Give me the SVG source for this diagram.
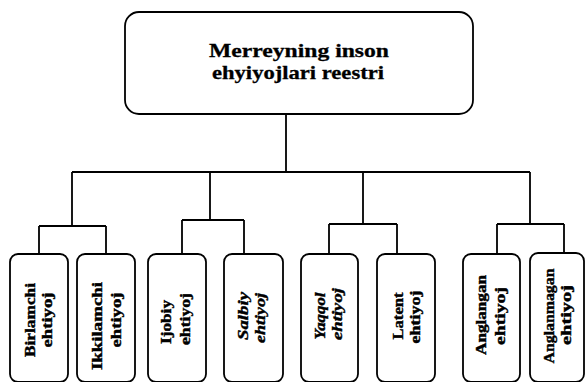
<svg xmlns="http://www.w3.org/2000/svg" width="586" height="382" viewBox="0 0 586 382">
<style>
.box{fill:#fff;stroke:#000;stroke-width:1.8}
.ln{fill:none;stroke:#000;stroke-width:1.8}
.t{font-family:"Liberation Serif","Times New Roman",serif;font-weight:bold;font-size:14px;fill:#000;stroke:#000;stroke-width:0.4;text-anchor:middle}
.it{font-style:italic}
.title{font-family:"Liberation Serif","Times New Roman",serif;font-weight:bold;font-size:19px;fill:#000;stroke:#000;stroke-width:0.3;text-anchor:middle}
</style>
<rect width="586" height="382" fill="#fff"/>
<g id="connectors">
<path class="ln" d="M286 114V172M72 172H530M72 172V226M210 172V220M363 172V224M530 172V224"/>
<path class="ln" d="M39 226H106M39 226V254M106 226V254"/>
<path class="ln" d="M182 220H244M182 220V254M244 220V254"/>
<path class="ln" d="M329 224H397M329 224V254M397 224V254"/>
<path class="ln" d="M497 224H564M497 224V254M564 224V253"/>
</g>
<g id="root">
<rect class="box" x="125" y="12" width="348" height="102" rx="14"/>
<text class="title" x="299" y="57" textLength="180" lengthAdjust="spacingAndGlyphs">Merreyning inson</text>
<text class="title" x="298" y="79" textLength="172" lengthAdjust="spacingAndGlyphs">ehyiyojlari reestri</text>
</g>
<g id="n1">
<rect class="box" x="10" y="254" width="58" height="128" rx="8"/>
<text class="t" transform="translate(35 320) rotate(-90)" textLength="74" lengthAdjust="spacingAndGlyphs">Birlamchi</text>
<text class="t" transform="translate(52 320) rotate(-90)" textLength="55" lengthAdjust="spacingAndGlyphs">ehtiyoj</text>
</g>
<g id="n2">
<rect class="box" x="77" y="254" width="58" height="128" rx="8"/>
<text class="t" transform="translate(102 326) rotate(-90)" textLength="88" lengthAdjust="spacingAndGlyphs">Ikkilamchi</text>
<text class="t" transform="translate(121 320) rotate(-90)" textLength="55" lengthAdjust="spacingAndGlyphs">ehtiyoj</text>
</g>
<g id="n3">
<rect class="box" x="148" y="254" width="58" height="128" rx="8"/>
<text class="t" transform="translate(171 322) rotate(-90)" textLength="44" lengthAdjust="spacingAndGlyphs">Ijobiy</text>
<text class="t" transform="translate(190 319) rotate(-90)" textLength="52" lengthAdjust="spacingAndGlyphs">ehtiyoj</text>
</g>
<g id="n4">
<rect class="box" x="224" y="254" width="59" height="128" rx="8"/>
<text class="t it" transform="translate(248 316) rotate(-90)" textLength="48" lengthAdjust="spacingAndGlyphs">Salbiy</text>
<text class="t it" transform="translate(265 318) rotate(-90)" textLength="50" lengthAdjust="spacingAndGlyphs">ehtiyoj</text>
</g>
<g id="n5">
<rect class="box" x="301" y="254" width="57" height="128" rx="8"/>
<text class="t it" transform="translate(325 316) rotate(-90)" textLength="47" lengthAdjust="spacingAndGlyphs">Yaqqol</text>
<text class="t it" transform="translate(342 314) rotate(-90)" textLength="52" lengthAdjust="spacingAndGlyphs">ehtiyoj</text>
</g>
<g id="n6">
<rect class="box" x="377" y="254" width="58" height="128" rx="8"/>
<text class="t" transform="translate(403 316) rotate(-90)" textLength="47" lengthAdjust="spacingAndGlyphs">Latent</text>
<text class="t" transform="translate(420 317) rotate(-90)" textLength="53" lengthAdjust="spacingAndGlyphs">ehtiyoj</text>
</g>
<g id="n7">
<rect class="box" x="463" y="254" width="57" height="128" rx="8"/>
<text class="t" transform="translate(486 315) rotate(-90)" textLength="80" lengthAdjust="spacingAndGlyphs">Anglangan</text>
<text class="t" transform="translate(505 316) rotate(-90)" textLength="58" lengthAdjust="spacingAndGlyphs">ehtiyoj</text>
</g>
<g id="n8">
<rect class="box" x="530" y="253" width="54" height="129" rx="8"/>
<text class="t" transform="translate(554 316) rotate(-90)" textLength="95" lengthAdjust="spacingAndGlyphs">Anglanmagan</text>
<text class="t" transform="translate(571 315) rotate(-90)" textLength="60" lengthAdjust="spacingAndGlyphs">ehtiyoj</text>
</g>
</svg>
